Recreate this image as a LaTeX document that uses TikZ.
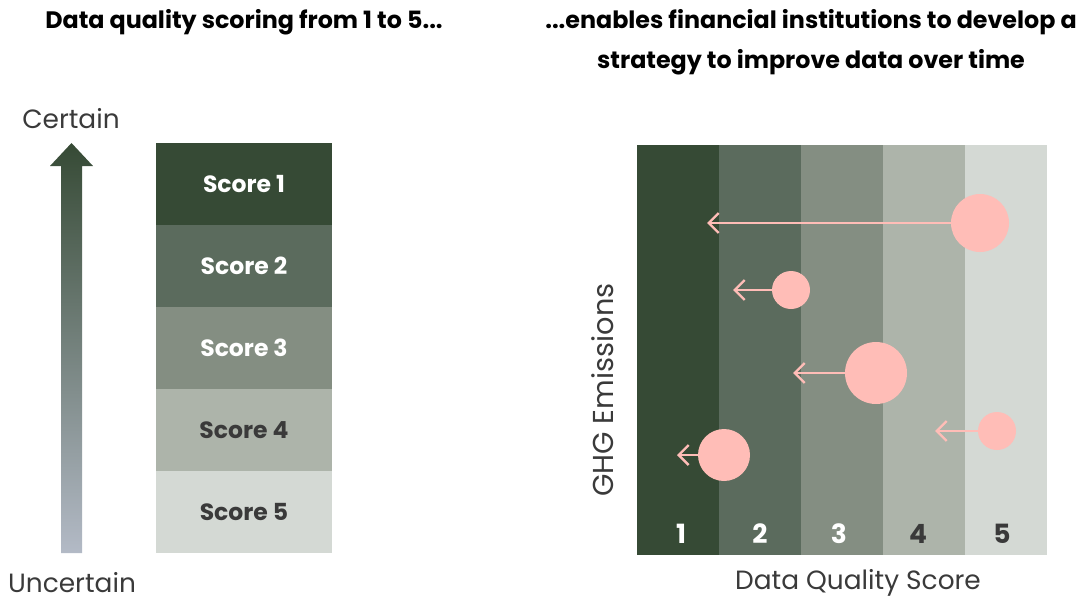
\documentclass[tikz,border=0pt]{standalone}
\usepackage{fontspec}
\setmainfont{Poppins}
\usetikzlibrary{arrows.meta}
\definecolor{c1}{HTML}{364A35}
\definecolor{c2}{HTML}{5B6B5D}
\definecolor{c3}{HTML}{848E82}
\definecolor{c4}{HTML}{ADB4AA}
\definecolor{c5}{HTML}{D4D9D4}
\definecolor{pinkc}{HTML}{FFBDB7}
\definecolor{txt}{HTML}{3A3A3A}
\definecolor{arrowbot}{HTML}{B3BAC6}
\begin{document}
\begin{tikzpicture}[x=1pt,y=-1pt,
  scorebox/.style={minimum width=176pt,minimum height=82pt,inner sep=0pt,draw=none,font=\fontsize{23.5}{28}\selectfont\bfseries},
  colbox/.style={minimum width=82pt,minimum height=410pt,inner sep=0pt,draw=none},
  dot/.style={circle,fill=pinkc,draw=none,inner sep=0pt},
  pinkarrow/.style={draw=pinkc,line width=2.4pt,-{Straight Barb[length=10pt,width=20pt,line width=2.4pt]}},
  numlab/.style={font=\fontsize{26.5}{30}\selectfont\bfseries},
  title/.style={font=\fontsize{23.8}{28}\selectfont\bfseries,text=black},
  axlab/.style={font=\fontsize{26.4}{30}\selectfont,text=txt}]
\useasboundingbox (0,0) rectangle (1084,603);
% titles
\node[title] (t1) at (244,22) {Data quality scoring from 1 to 5...};
\node[title] (t2a) at (811,22) {...enables financial institutions to develop a};
\node[title] (t2b) at (811,62) {strategy to improve data over time};
% left axis
\node[axlab] (cert) at (71,119) {Certain};
\node[axlab] (unc) at (72,583) {Uncertain};
\shade[top color=c1,bottom color=arrowbot]
  (61,553) -- (61,166) -- (50,166) -- (71.5,143) -- (93,166) -- (82,166) -- (82,553) -- cycle;
% score stack
\node[scorebox,fill=c1,text=white] (s1) at (244,184) {Score 1};
\node[scorebox,fill=c2,text=white] (s2) at (244,266) {Score 2};
\node[scorebox,fill=c3,text=white] (s3) at (244,348) {Score 3};
\node[scorebox,fill=c4,text=txt] (s4) at (244,430) {Score 4};
\node[scorebox,fill=c5,text=txt] (s5) at (244,512) {Score 5};
% right chart columns
\node[colbox,fill=c1] (k1) at (678,350) {};
\node[colbox,fill=c2] (k2) at (760,350) {};
\node[colbox,fill=c3] (k3) at (842,350) {};
\node[colbox,fill=c4] (k4) at (924,350) {};
\node[colbox,fill=c5] (k5) at (1006,350) {};
\node[numlab,text=white] (n1) at (681,534) {1};
\node[numlab,text=white] (n2) at (760,534) {2};
\node[numlab,text=white] (n3) at (839,534) {3};
\node[numlab,text=txt] (n4) at (918,534) {4};
\node[numlab,text=txt] (n5) at (1002,534) {5};
% dots and arrows
\node[dot,minimum size=58pt] (d1) at (980,223) {};
\node[dot,minimum size=38pt] (d2) at (791,290) {};
\node[dot,minimum size=62pt] (d3) at (876,373) {};
\node[dot,minimum size=38pt] (d4) at (997,431) {};
\node[dot,minimum size=52pt] (d5) at (724,455) {};
\coordinate (a1) at (707,223);
\coordinate (a2) at (733,290);
\coordinate (a3) at (793,373);
\coordinate (a4) at (935,431);
\coordinate (a5) at (677,455);
\draw[pinkarrow] (d1.west) -- (a1);
\draw[pinkarrow] (d2.west) -- (a2);
\draw[pinkarrow] (d3.west) -- (a3);
\draw[pinkarrow] (d4.west) -- (a4);
\draw[pinkarrow] (d5.west) -- (a5);
% axis labels
\node[axlab,rotate=90,font=\fontsize{28.8}{32}\selectfont] (ghg) at (603,390) {GHG Emissions};
\node[axlab] (dqs) at (858,583) {Data Quality Score};
\end{tikzpicture}
\end{document}
